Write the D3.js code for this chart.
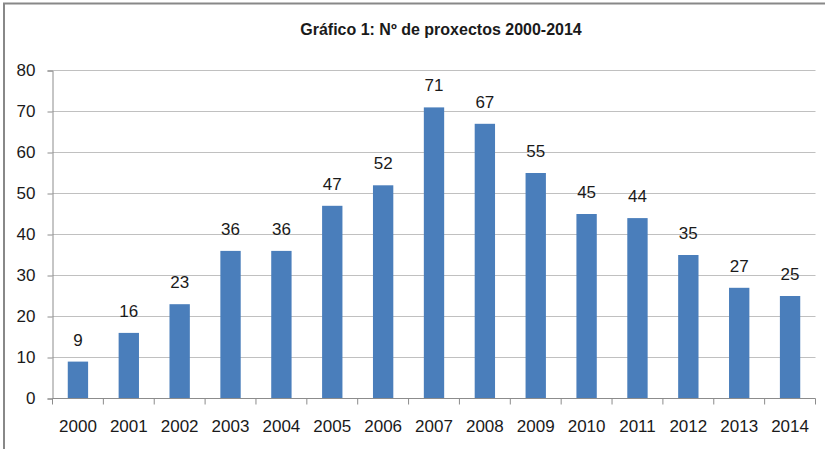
<!DOCTYPE html>
<html>
<head>
<meta charset="utf-8">
<script src="https://cdn.jsdelivr.net/npm/d3@7"></script>
<style>
  body { margin: 0; background: #fff; }
  text { font-family: "Liberation Sans", Arial, sans-serif; fill: #1a1a1a; }
</style>
</head>
<body>
<div id="chart"></div>
<script>
// Data
var years = ["2000","2001","2002","2003","2004","2005","2006","2007","2008","2009","2010","2011","2012","2013","2014"];
var projects = [9, 16, 23, 36, 36, 47, 52, 71, 67, 55, 45, 44, 35, 27, 25];
var yTicks = [0, 10, 20, 30, 40, 50, 60, 70, 80];
var title = "Gráfico 1: Nº de proxectos 2000-2014";

var width = 825, height = 449;
var margin = {top: 70.5, right: 9.5, bottom: 50.5, left: 52.5};

var svg = d3.select("#chart").append("svg")
    .attr("width", width)
    .attr("height", height);

// outer frame (only top and left edges visible)
svg.append("path")
    .attr("d", "M4,449 V3.5 H825")
    .attr("fill", "none")
    .attr("stroke", "#888")
    .attr("stroke-width", 2);

var x = d3.scaleBand()
    .domain(years)
    .range([margin.left, width - margin.right])
    .paddingInner(0.6)
    .paddingOuter(0.3);

var y = d3.scaleLinear()
    .domain([0, 80])
    .range([height - margin.bottom, margin.top]);

// gridlines
svg.append("g")
    .selectAll("line")
    .data(yTicks.filter(d => d > 0))
    .enter().append("line")
    .attr("x1", margin.left)
    .attr("x2", width - margin.right)
    .attr("y1", d => y(d))
    .attr("y2", d => y(d))
    .attr("stroke", "#c0c0c0")
    .attr("stroke-width", 1.2);

// y axis
var yAxis = svg.append("g")
    .attr("transform", "translate(" + margin.left + ",0)")
    .call(d3.axisLeft(y).tickValues(yTicks).tickSize(5).tickPadding(12));
yAxis.select(".domain").attr("stroke", "#8c8c8c");
yAxis.selectAll(".tick line").attr("stroke", "#8c8c8c");
yAxis.selectAll("text").style("font-size", "17px").attr("fill", "#1a1a1a");

// bars
svg.append("g")
    .selectAll("rect")
    .data(projects)
    .enter().append("rect")
    .attr("x", (d, i) => x(years[i]))
    .attr("width", x.bandwidth())
    .attr("y", d => y(d))
    .attr("height", d => y(0) - y(d))
    .attr("fill", "#4a7ebb");

// data labels
svg.append("g")
    .selectAll("text")
    .data(projects)
    .enter().append("text")
    .attr("x", (d, i) => x(years[i]) + x.bandwidth() / 2)
    .attr("y", d => y(d) - 16)
    .attr("text-anchor", "middle")
    .style("font-size", "17px")
    .text(d => d);

// x axis with ticks at category boundaries
var xAxisG = svg.append("g")
    .attr("transform", "translate(0," + y(0) + ")");
xAxisG.append("line")
    .attr("x1", margin.left)
    .attr("x2", width - margin.right)
    .attr("stroke", "#8c8c8c");
var step = x.step();
var bounds = d3.range(years.length + 1).map(i => margin.left + i * step);
xAxisG.selectAll(".xt")
    .data(bounds)
    .enter().append("line")
    .attr("class", "xt")
    .attr("x1", d => d)
    .attr("x2", d => d)
    .attr("y1", 0)
    .attr("y2", 6)
    .attr("stroke", "#8c8c8c");
xAxisG.selectAll(".xl")
    .data(years)
    .enter().append("text")
    .attr("class", "xl")
    .attr("x", d => x(d) + x.bandwidth() / 2)
    .attr("y", 33)
    .attr("text-anchor", "middle")
    .style("font-size", "17px")
    .text(d => d);

// title
svg.append("text")
    .attr("x", 441)
    .attr("y", 35)
    .attr("text-anchor", "middle")
    .style("font-size", "16px")
    .style("font-weight", "bold")
    .text(title);
</script>
</body>
</html>
